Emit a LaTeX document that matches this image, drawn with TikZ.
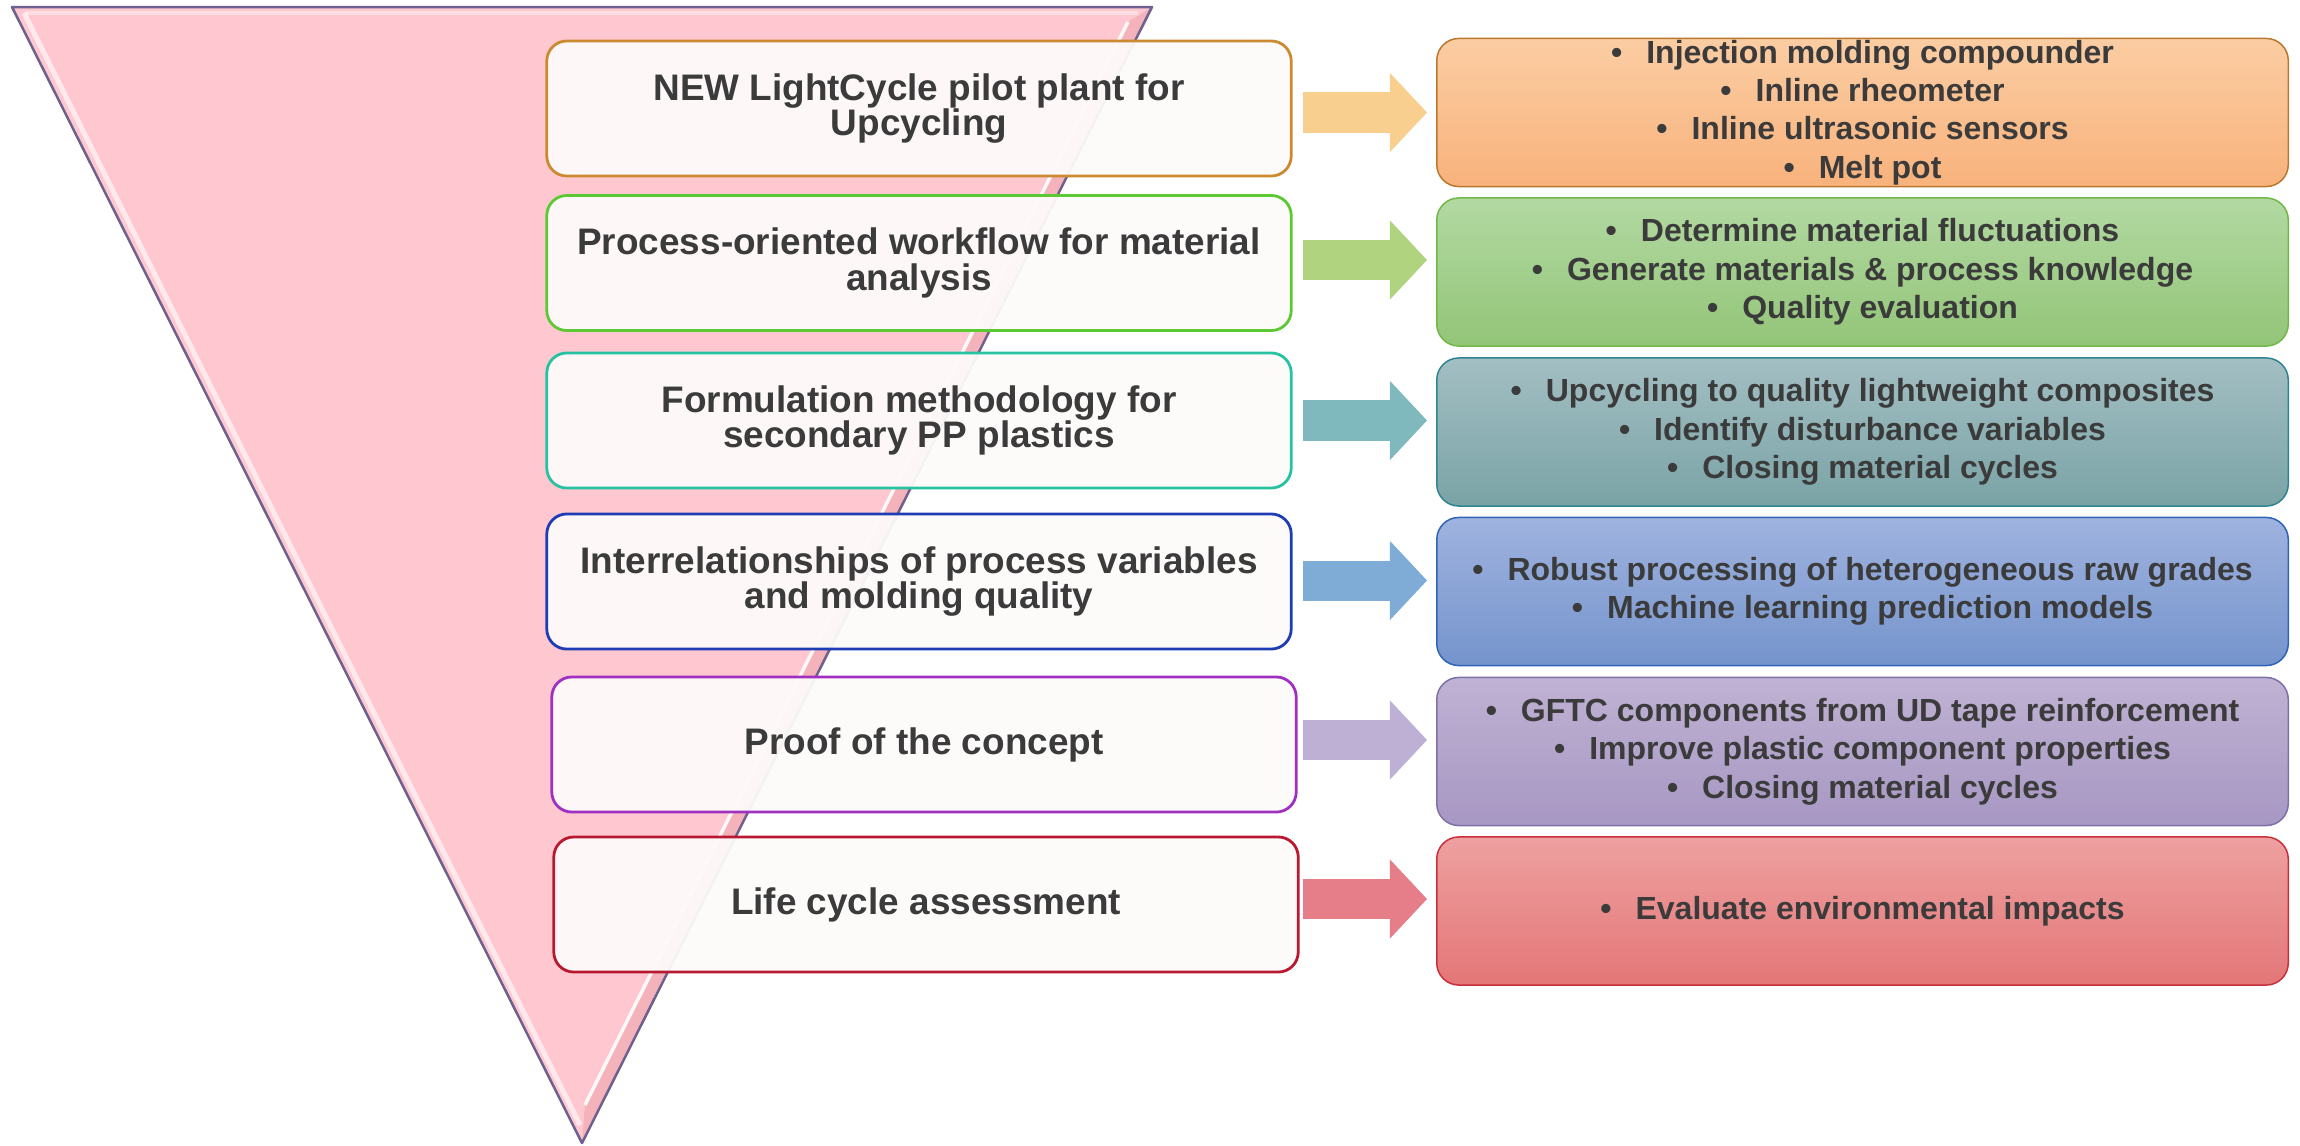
\documentclass[tikz,border=0pt]{standalone}
\usepackage{fontspec}
\setmainfont{Liberation Sans}
\usepackage{tikz}
\usetikzlibrary{arrows.meta}

\definecolor{txt}{HTML}{3B3B3B}
\definecolor{funnel}{HTML}{FFC8D0}
\definecolor{funneldark}{HTML}{F4B2BA}
\definecolor{funnelrim}{HTML}{6E6190}
\definecolor{lfill}{HTML}{FDFAFA}
% left box rims
\definecolor{lbA}{HTML}{CC8A30}
\definecolor{lbB}{HTML}{5CC832}
\definecolor{lbC}{HTML}{26C2A2}
\definecolor{lbD}{HTML}{1E3CB4}
\definecolor{lbE}{HTML}{A030C0}
\definecolor{lbF}{HTML}{B81830}
% right boxes
\definecolor{rbA}{HTML}{B9782F}\definecolor{rAt}{HTML}{FBCDA3}\definecolor{rAb}{HTML}{F8B27C}
\definecolor{rbB}{HTML}{72B848}\definecolor{rBt}{HTML}{B2D9A2}\definecolor{rBb}{HTML}{93C578}
\definecolor{rbC}{HTML}{2E8590}\definecolor{rCt}{HTML}{A3BFC3}\definecolor{rCb}{HTML}{7AA3A6}
\definecolor{rbD}{HTML}{2F64B6}\definecolor{rDt}{HTML}{9FB3DF}\definecolor{rDb}{HTML}{7594CC}
\definecolor{rbE}{HTML}{8070A8}\definecolor{rEt}{HTML}{BFB2D3}\definecolor{rEb}{HTML}{A797C3}
\definecolor{rbF}{HTML}{C8303C}\definecolor{rFt}{HTML}{EEA0A0}\definecolor{rFb}{HTML}{E47677}
% arrows
\definecolor{arA}{HTML}{F9CF8F}
\definecolor{arB}{HTML}{AFD37E}
\definecolor{arC}{HTML}{7FB9BD}
\definecolor{arD}{HTML}{7EACD6}
\definecolor{arE}{HTML}{BEAFD4}
\definecolor{arF}{HTML}{E57E89}

\newcommand{\itm}{\textbullet\hspace{0.75em}}
\lineskiplimit=-3pt

\tikzset{
  lbox/.style={draw, line width=0.028cm, rounded corners=0.2cm, fill=lfill,
    fill opacity=0.95, text opacity=1, text=txt, minimum width=7.44cm,
    minimum height=1.35cm, inner sep=0pt, align=center,
    font=\fontsize{10.5pt}{10.2pt}\selectfont\bfseries},
  rbox/.style={draw, line width=0.015cm, rounded corners=0.22cm, text=txt,
    minimum width=8.51cm, minimum height=1.48cm, inner sep=0pt, align=center,
    font=\fontsize{9.1pt}{10.9pt}\selectfont\bfseries},
  flow/.style={line width=0.4cm,
    -{Triangle[length=0.37cm,width=0.79cm,line width=0pt]},
    shorten <=0.1cm, shorten >=0.09cm}
}

\begin{document}
\begin{tikzpicture}[x=0.01cm,y=-0.01cm]
  \useasboundingbox (0,0) rectangle (2300,1145);

  % funnel
  \coordinate (tl) at (12,7);
  \coordinate (tr) at (1152,7);
  \coordinate (tip) at (582,1143);
  \fill[funnel] (tl) -- (tr) -- (tip) -- cycle;
  \fill[funneldark] (tr) -- (tip) -- (585,1105) -- (1128,22) -- cycle;
  \draw[white, line width=0.035cm, opacity=0.9] (1128,22) -- (585,1105);
  \draw[white, line width=0.05cm, opacity=0.6] (24,13) -- (580,1125);
  \draw[white, line width=0.04cm, opacity=0.4] (26,13) -- (1138,13);
  \draw[funnelrim, line width=0.025cm, line join=round] (tl) -- (tr) -- (tip) -- cycle;

  % left column
  \node[lbox, draw=lbA] (L1) at (919,108.5) {NEW LightCycle pilot plant for\\Upcycling};
  \node[lbox, draw=lbB] (L2) at (919,263) {Process-oriented workflow for material\\analysis};
  \node[lbox, draw=lbC] (L3) at (919,420.5) {Formulation methodology for\\secondary PP plastics};
  \node[lbox, draw=lbD] (L4) at (919,581.5) {Interrelationships of process variables\\and molding quality};
  \node[lbox, draw=lbE] (L5) at (924,744.5) {Proof of the concept};
  \node[lbox, draw=lbF] (L6) at (926,904.5) {Life cycle assessment};

  % right column
  \node[rbox, draw=rbA, top color=rAt, bottom color=rAb] (R1) at (1862.5,112.5)
    {\itm Injection molding compounder\\\itm Inline rheometer\\\itm Inline ultrasonic sensors\\\itm Melt pot};
  \node[rbox, draw=rbB, top color=rBt, bottom color=rBb] (R2) at (1862.5,272)
    {\itm Determine material fluctuations\\\itm Generate materials \& process knowledge\\\itm Quality evaluation};
  \node[rbox, draw=rbC, top color=rCt, bottom color=rCb] (R3) at (1862.5,432)
    {\itm Upcycling to quality lightweight composites\\\itm Identify disturbance variables\\\itm Closing material cycles};
  \node[rbox, draw=rbD, top color=rDt, bottom color=rDb] (R4) at (1862.5,591.5)
    {\itm Robust processing of heterogeneous raw grades\\\itm Machine learning prediction models};
  \node[rbox, draw=rbE, top color=rEt, bottom color=rEb] (R5) at (1862.5,751.5)
    {\itm GFTC components from UD tape reinforcement\\\itm Improve plastic component properties\\\itm Closing material cycles};
  \node[rbox, draw=rbF, top color=rFt, bottom color=rFb] (R6) at (1862.5,911)
    {\itm Evaluate environmental impacts};

  % arrows
  \coordinate (a1) at ([yshift=-0.04cm]L1.east);
  \coordinate (a2) at ([yshift=0.03cm]L2.east);
  \coordinate (a3) at (L3.east);
  \coordinate (a4) at ([yshift=0.01cm]L4.east);
  \coordinate (a5) at ([yshift=0.045cm]L5.east);
  \coordinate (a6) at ([yshift=0.055cm]L6.east);
  \draw[flow, arA] (a1) -- (a1 -| R1.west);
  \draw[flow, arB] (a2) -- (a2 -| R2.west);
  \draw[flow, arC] (a3) -- (a3 -| R3.west);
  \draw[flow, arD] (a4) -- (a4 -| R4.west);
  \draw[flow, arE, shorten <=0.05cm] (a5) -- (a5 -| R5.west);
  \draw[flow, arF, shorten <=0.03cm] (a6) -- (a6 -| R6.west);
\end{tikzpicture}
\end{document}
